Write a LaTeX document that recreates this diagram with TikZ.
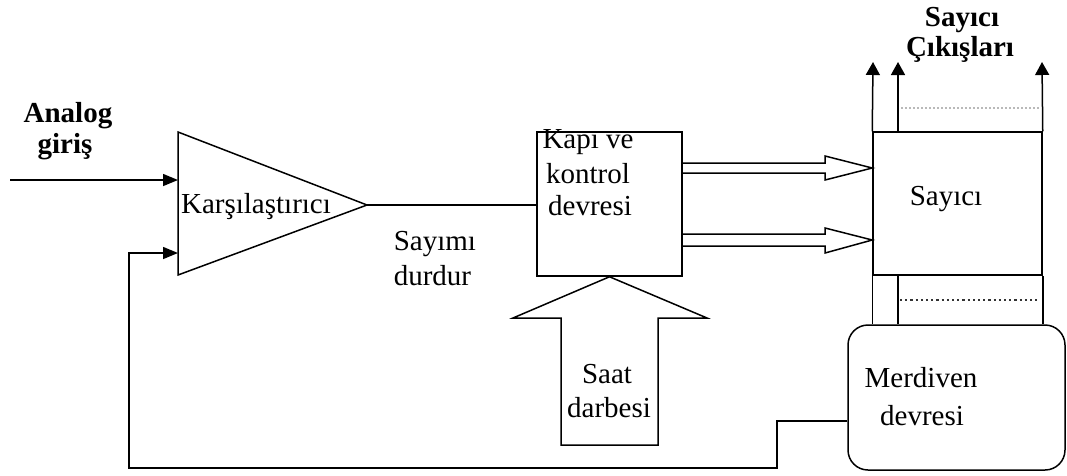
\documentclass[tikz,border=0pt]{standalone}
\usepackage{fontspec}
\setmainfont{Liberation Serif}
\usetikzlibrary{arrows.meta,calc}
\begin{document}
\begin{tikzpicture}[x=1pt,y=-1pt,
  line width=1.5pt,
  txt/.style={font=\fontsize{29}{34}\selectfont, inner sep=0pt, anchor=base},
  btxt/.style={font=\bfseries\fontsize{29}{34}\selectfont, inner sep=0pt, anchor=base},
  box/.style={draw, rectangle, inner sep=0pt},
  intip/.style={-{Triangle[length=15pt,width=12pt]}},
  otip/.style={-{Triangle[length=13pt,width=14pt]}},
  hollow/.style={line join=miter},
]
\useasboundingbox (0,0) rectangle (1067,475);

% blocks
\node[box, minimum width=145pt, minimum height=144pt] (kapi) at (609.5,204) {};
\node[box, minimum width=169pt, minimum height=143pt] (sayici) at (957.5,203.5) {};
\node[box, rounded corners=20pt, minimum width=217pt, minimum height=145pt] (merd) at (956.5,397.5) {};

% comparator triangle
\coordinate (cA) at (178,132);
\coordinate (cB) at (178,275);
\coordinate (cO) at (367,205);
\draw[line join=miter] (cA) -- (cO) -- (cB) -- cycle;

% texts
\node[txt] (cmpT) at (256,213) {Karşılaştırıcı};
\node[txt] (kapiT1) at (588,148) {Kapı ve};
\node[txt] (kapiT2) at (588,183) {kontrol};
\node[txt] (kapiT3) at (590,215) {devresi};
\node[txt] (sayT) at (946,205) {Sayıcı};
\node[txt, anchor=base west] (durT1) at (393,250) {Sayımı};
\node[txt, anchor=base west] (durT2) at (393,285) {durdur};
\node[txt] (saatT1) at (607,383) {Saat};
\node[txt] (saatT2) at (609,417) {darbesi};
\node[txt] (merT1) at (921,387) {Merdiven};
\node[txt] (merT2) at (922,425) {devresi};
\node[btxt] (anT1) at (68,122) {Analog};
\node[btxt] (anT2) at (65,153) {giriş};
\node[btxt] (outT1) at (962,26) {Sayıcı};
\node[btxt] (outT2) at (960,56) {Çıkışları};

% analog input
\coordinate (ain) at (10,180);
\draw[intip] (ain) -- (ain -| cA);

% comparator to gate
\draw (cO) -- (cO -| kapi.west);

% feedback
\coordinate (fb0) at ($(merd.west)+(0,23.5)$);
\coordinate (fbIn) at (178,253);
\draw[intip] (fb0) -- (777,421) -- (777,468) -- (129,468) -- (129,253) -- (fbIn);

% hollow double arrows
\draw[hollow] (682,163) -- (825,163) -- (825,156) -- (sayici.west |- 0,168) -- (825,180) -- (825,173) -- (682,173);
\draw[hollow] (682,234) -- (825,234) -- (825,228) -- (sayici.west |- 0,240) -- (825,253) -- (825,246) -- (682,246);

% clock arrow
\draw[hollow] (kapi.south) -- (707,318) -- (658,318) -- (658,445) -- (561,445) -- (561,318) -- (513,318) -- cycle;

% outputs
\coordinate (o1) at (873,62);
\coordinate (o2) at (898,62);
\coordinate (o3) at (1042,62);
\draw[otip] (sayici.north west) -- (o1);
\draw[otip] (o2 |- sayici.north) -- (o2);
\draw[otip] (sayici.north east) -- (o3);

% links to ladder
\draw (sayici.south west) -- (sayici.south west |- merd.north);
\draw (o2 |- sayici.south) -- (o2 |- merd.north);
\draw (sayici.south east) -- (sayici.south east |- merd.north);

% dotted lines
\draw[gray!55, line width=1.2pt, dash pattern=on 1.5pt off 2.5pt] (901,108) -- (1040,108);
\draw[black!80, line width=2.4pt, dash pattern=on 2.2pt off 3pt] (900,300) -- (1040,300);
\end{tikzpicture}
\end{document}
